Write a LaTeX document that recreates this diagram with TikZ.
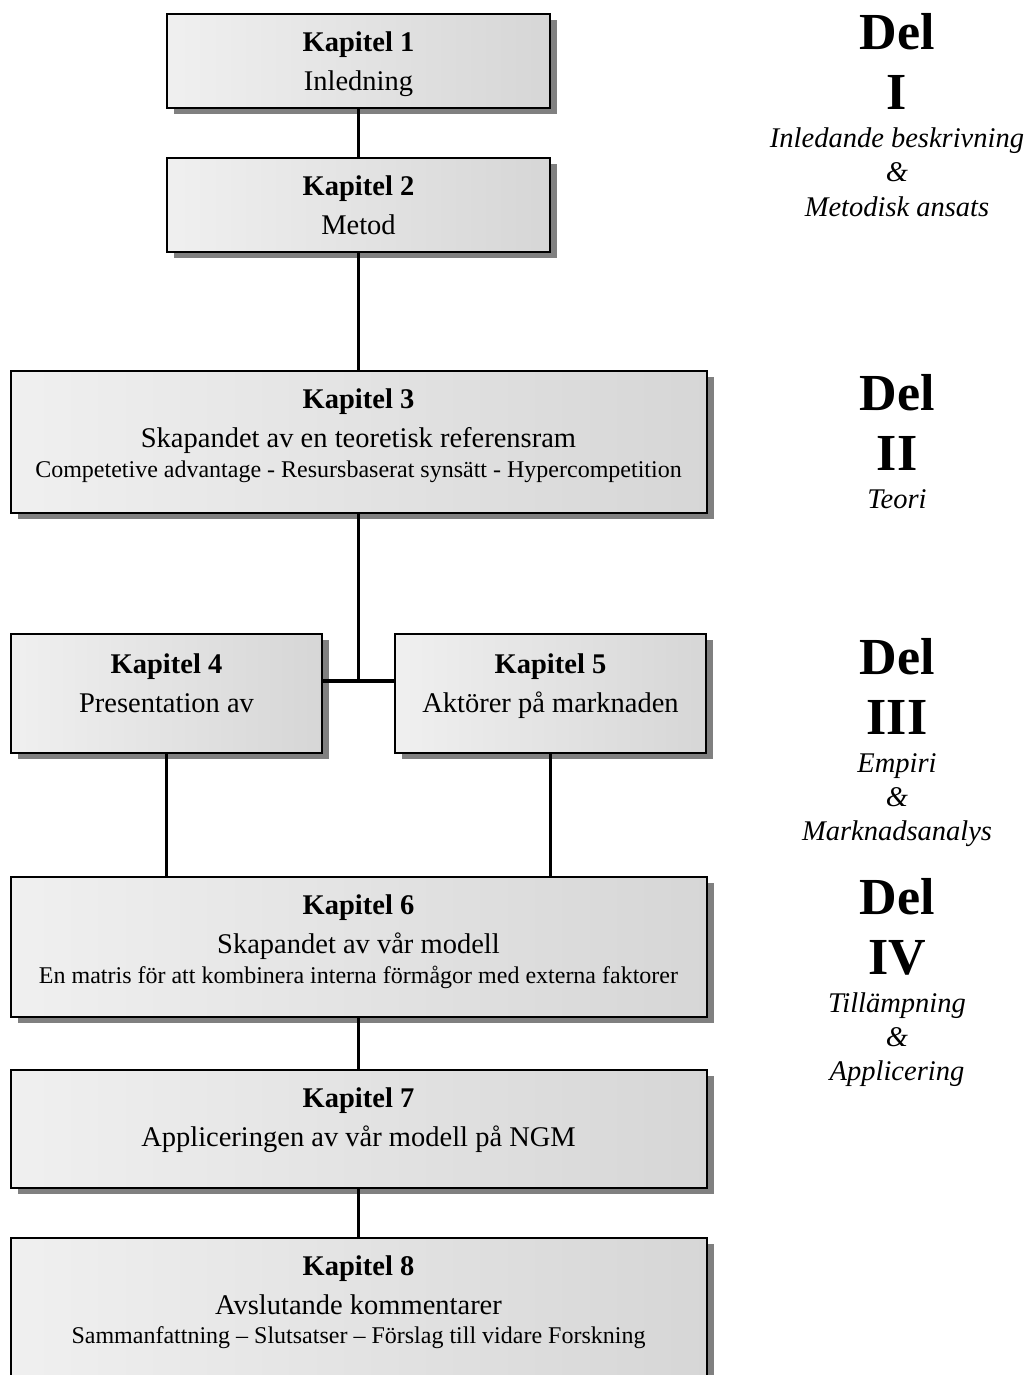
\documentclass[tikz,border=0pt]{standalone}
\usepackage{fontspec}
\setmainfont{Liberation Serif}
\usetikzlibrary{positioning, shadows}

\tikzset{
  kapitel/.style={draw, line width=2pt, inner sep=0pt, align=center, text depth=0pt,
    font=\fontsize{28.5}{39}\selectfont,
    left color=black!6, right color=black!16,
    drop shadow={shadow xshift=7pt, shadow yshift=-6pt, fill=black!50, opacity=1}},
  smal/.style={minimum width=383pt},
  bred/.style={minimum width=696pt},
  halv/.style={minimum width=311pt},
  lank/.style={line width=3.5pt},
  delnr/.style={anchor=base, inner sep=0pt, font=\fontsize{52}{60}\selectfont\bfseries},
  deltxt/.style={anchor=base, inner sep=0pt, font=\fontsize{28.5}{34}\selectfont\itshape},
}
\newcommand{\undertext}[1]{{\fontsize{24}{29.5}\selectfont #1}}

\begin{document}
\begin{tikzpicture}[x=1pt, y=-1pt]
    \useasboundingbox (0,0) rectangle (1031,1375);

    % kapitel
    \node (k1)[kapitel, smal, minimum height=94pt] at (358.5,61) {\textbf{Kapitel 1}\\Inledning};
    \node (k2)[kapitel, smal, minimum height=94pt] at (358.5,205) {\textbf{Kapitel 2}\\Metod};
    \node (k3)[kapitel, bred, minimum height=142pt, text depth=18pt] at (358.5,442)
        {\textbf{Kapitel 3}\\Skapandet av en teoretisk referensram\\[-9.5pt]
         \undertext{Competetive advantage - Resursbaserat synsätt - Hypercompetition}};
    \node (k4)[kapitel, halv, minimum height=119pt, text depth=21.5pt] at (166.5,693.5) {\textbf{Kapitel 4}\\Presentation av};
    \node (k5)[kapitel, halv, minimum height=119pt, text depth=21.5pt] at (550.5,693.5) {\textbf{Kapitel 5}\\Aktörer på marknaden};
    \node (k6)[kapitel, bred, minimum height=140pt, text depth=16pt] at (358.5,947)
        {\textbf{Kapitel 6}\\Skapandet av vår modell\\[-9.5pt]
         \undertext{En matris för att kombinera interna förmågor med externa faktorer}};
    \node (k7)[kapitel, bred, minimum height=118pt, text depth=24pt] at (358.5,1129) {\textbf{Kapitel 7}\\Appliceringen av vår modell på NGM};
    \node (k8)[kapitel, bred, minimum height=140pt, text depth=17pt] at (358.5,1308)
        {\textbf{Kapitel 8}\\Avslutande kommentarer\\[-9.5pt]
         \undertext{Sammanfattning -- Slutsatser -- Förslag till vidare Forskning}};

    % kopplingar
    \coordinate (knut) at (358.5,681);
    \draw [lank] (k1) -- (k2);
    \draw [lank] (k2) -- (k3);
    \draw [lank] (k3) -- (knut);
    \draw [lank] (k4.east |- knut) -- (k5.west |- knut);
    \draw [lank] (k4.south) -- (k4.south |- k6.north);
    \draw [lank] (k5.south) -- (k5.south |- k6.north);
    \draw [lank] (k6) -- (k7);
    \draw [lank] (k7) -- (k8);

    % delar
    \node (del1)[delnr] at (897,50) {Del};
    \node (nr1)[delnr] at (897,110) {I};
    \node (del1a)[deltxt] at (897,148) {Inledande beskrivning};
    \node (del1b)[deltxt] at (897,182) {\&};
    \node (del1c)[deltxt] at (897,216) {Metodisk ansats};

    \node (del2)[delnr] at (897,410) {Del};
    \node (nr2)[delnr] at (897,470) {II};
    \node (del2a)[deltxt] at (897,508) {Teori};

    \node (del3)[delnr] at (897,674) {Del};
    \node (nr3)[delnr] at (897,734) {III};
    \node (del3a)[deltxt] at (897,772) {Empiri};
    \node (del3b)[deltxt] at (897,806) {\&};
    \node (del3c)[deltxt] at (897,840) {Marknadsanalys};

    \node (del4)[delnr] at (897,914) {Del};
    \node (nr4)[delnr] at (897,974) {IV};
    \node (del4a)[deltxt] at (897,1012) {Tillämpning};
    \node (del4b)[deltxt] at (897,1046) {\&};
    \node (del4c)[deltxt] at (897,1080) {Applicering};
\end{tikzpicture}
\end{document}
